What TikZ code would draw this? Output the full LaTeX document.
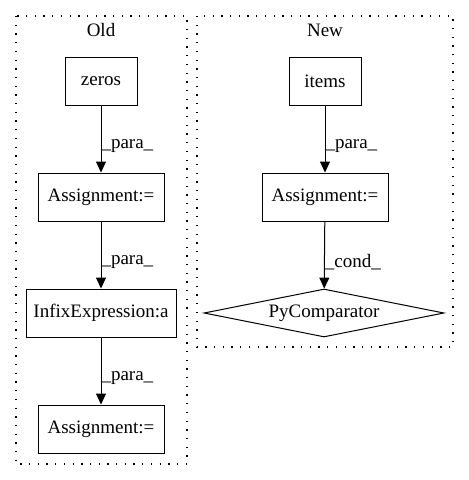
\documentclass[tikz,border=0pt]{standalone}
\usepackage{fontspec}
\setmainfont{Liberation Serif}
\usetikzlibrary{arrows.meta,shapes.geometric}
\begin{document}
\begin{tikzpicture}[x=1pt,y=-1pt,
  every node/.style={font=\fontsize{19}{22}\selectfont},
  box/.style={draw,line width=1pt,minimum height=48pt,inner sep=0pt},
  cluster/.style={draw,line width=1.3pt,dash pattern=on 1.3pt off 7.4pt},
  edge/.style={draw,line width=1pt,-{Triangle[width=10pt,length=11pt]}},
  elab/.style={anchor=west,inner sep=0pt}]
\useasboundingbox (0,0) rectangle (469,480);
\draw[cluster] (16,16) rectangle (187,464);
\draw[cluster] (197,16) rectangle (453,347);
\node (old) at (101,30) {Old};
\node (new) at (325,30) {New};
\node[box,minimum width=72pt] (zeros) at (101,81) {zeros};
\node[box,minimum width=126pt] (a1) at (101,197) {Assignment:=};
\node[box,minimum width=150pt] (inf) at (101,313) {InfixExpression:a};
\node[box,minimum width=126pt] (a2) at (101,429) {Assignment:=};
\node[box,minimum width=72pt] (items) at (325,81) {items};
\node[box,minimum width=126pt] (a3) at (325,197) {Assignment:=};
\node[draw,line width=1pt,diamond,aspect=5,inner sep=0pt,minimum width=240pt,minimum height=48pt] (pc) at (324,313) {PyComparator};
\draw[edge] (zeros) -- node[elab,pos=0.6]{\_para\_} (a1);
\draw[edge] (a1) -- node[elab,pos=0.6]{\_para\_} (inf);
\draw[edge] (inf) -- node[elab,pos=0.6]{\_para\_} (a2);
\draw[edge] (items) -- node[elab,pos=0.6]{\_para\_} (a3);
\draw[edge] (a3) -- node[elab,pos=0.6]{\_cond\_} (pc);
\end{tikzpicture}
\end{document}
